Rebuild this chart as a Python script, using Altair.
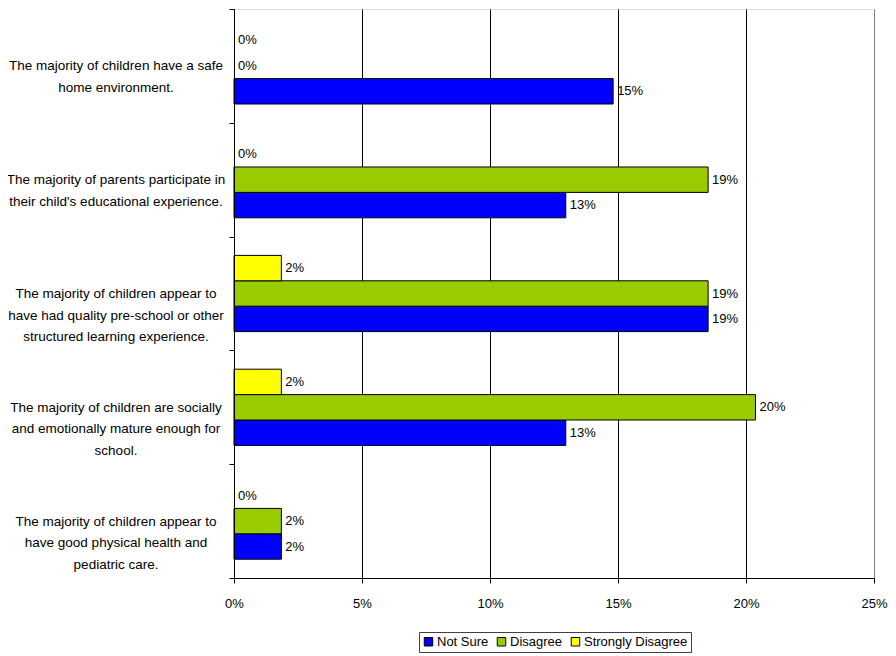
import altair as alt
import pandas as pd

categories = [
    "The majority of children have a safe|home environment.",
    "The majority of parents participate in|their child's educational experience.",
    "The majority of children appear to|have had quality pre-school or other|structured learning experience.",
    "The majority of children are socially|and emotionally mature enough for|school.",
    "The majority of children appear to|have good physical health and|pediatric care.",
]
series = ["Not Sure", "Disagree", "Strongly Disagree"]
colors = ["#0000FF", "#99CC00", "#FFFF00"]

not_sure = [0.1481, 0.1296, 0.1852, 0.1296, 0.0185]
disagree = [0.0, 0.1852, 0.1852, 0.2037, 0.0185]
strongly_disagree = [0.0, 0.0, 0.0185, 0.0185, 0.0]

rows = []
for i, c in enumerate(categories):
    rows.append({"category": c, "series": "Not Sure", "value": not_sure[i]})
    rows.append({"category": c, "series": "Disagree", "value": disagree[i]})
    rows.append({"category": c, "series": "Strongly Disagree", "value": strongly_disagree[i]})
df = pd.DataFrame(rows)

FONT = "Liberation Sans"
offset_order = ["Strongly Disagree", "Disagree", "Not Sure"]

y_enc = alt.Y(
    "category:N",
    sort=categories,
    scale=alt.Scale(paddingInner=0, paddingOuter=0),
    axis=alt.Axis(
        title=None,
        labelExpr="split(datum.label, '|')",
        labelAlign="center",
        labelBaseline="middle",
        labelPadding=113.5,
        labelFont=FONT,
        labelFontSize=13.5,
        labelLineHeight=21.5,
        labelColor="black",
        tickBand="extent",
        tickSize=5,
        tickColor="black",
        domain=True,
        domainColor="black",
        domainWidth=1,
        grid=False,
        labelLimit=400,
        zindex=1,
    ),
)
yoff_enc = alt.YOffset(
    "series:N",
    sort=offset_order,
    scale=alt.Scale(paddingInner=0, paddingOuter=0.74),
)
x_enc = alt.X(
    "value:Q",
    scale=alt.Scale(domain=[0, 0.25], nice=False),
    axis=alt.Axis(
        title=None,
        format=".0%",
        values=[0, 0.05, 0.10, 0.15, 0.20, 0.25],
        tickSize=5,
        tickColor="black",
        domainColor="black",
        labelFont=FONT,
        labelFontSize=13,
        labelColor="black",
        labelPadding=14,
        labelFlush=False,
        grid=True,
        gridColor={"condition": {"test": "datum.value >= 0.25", "value": "#808080"}, "value": "black"},
        gridOpacity=1,
    ),
)

bars = alt.Chart(df).transform_filter("datum.value > 0").mark_bar(
    stroke="black", strokeWidth=1
).encode(
    x=x_enc,
    y=y_enc,
    yOffset=yoff_enc,
    color=alt.Color(
        "series:N",
        scale=alt.Scale(domain=series, range=colors),
        legend=alt.Legend(
            title=None,
            orient="none",
            legendX=185,
            legendY=623,
            direction="horizontal",
            columns=3,
            symbolType="square",
            symbolSize=72,
            symbolStrokeColor="black",
            symbolStrokeWidth=1,
            labelFont=FONT,
            labelFontSize=13,
            labelColor="black",
            labelOffset=2,
            columnPadding=6,
            padding=3,
            strokeColor="#404040",
        ),
    ),
)

labels = alt.Chart(df).mark_text(
    align="left", baseline="middle", dx=4, font=FONT, fontSize=13, color="black"
).encode(
    x=alt.X("value:Q"),
    y=alt.Y("category:N", sort=categories),
    yOffset=alt.YOffset("series:N", sort=offset_order),
    text=alt.Text("value:Q", format=".0%"),
)

chart = (
    alt.layer(bars, labels)
    .resolve_scale(yOffset="shared")
    .properties(
        width=640,
        height=569,
        padding={"left": 226, "top": 1, "right": 14, "bottom": 76},
        autosize="none",
    )
    .configure_view(stroke="#808080", strokeWidth=1)
    .configure(background="white")
)

chart.save("out.html", embed_options={"renderer": "svg", "actions": False})
